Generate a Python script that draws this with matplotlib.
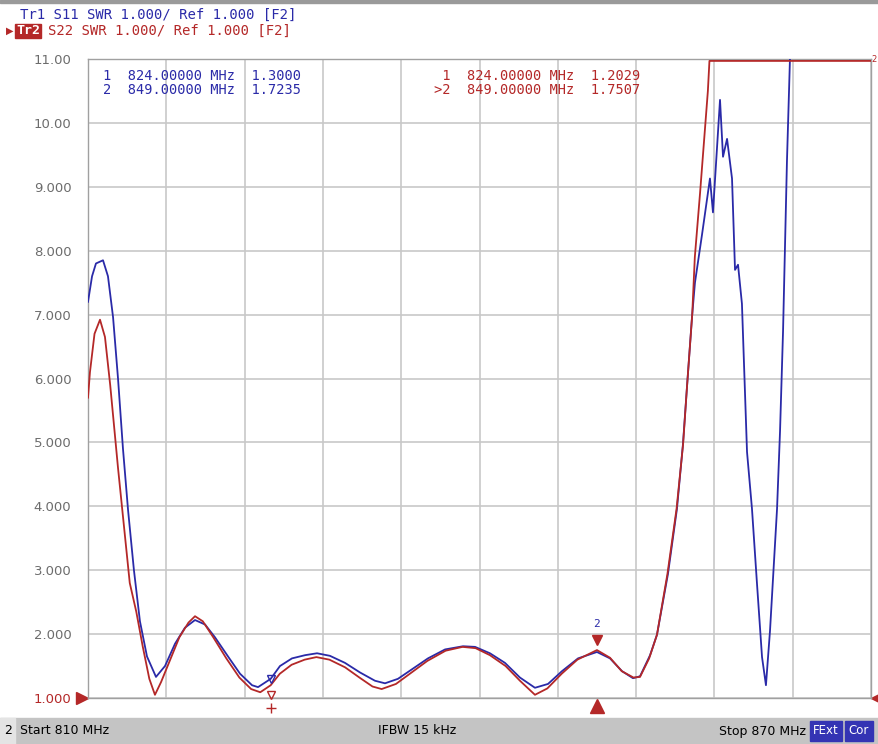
import matplotlib
matplotlib.use("Agg")
from matplotlib import pyplot as plt
from matplotlib.patches import Rectangle
import numpy as np

# S11 trace (blue), frequency in MHz and SWR
s11_freq = [810.0, 810.31, 810.61, 811.15, 811.53, 811.92, 812.30, 812.68, 813.07, 813.52,
            813.98, 814.52, 815.21, 815.90, 816.67, 817.43, 818.20, 818.97, 819.73, 820.73,
            821.65, 822.57, 823.03, 824.0, 824.71, 825.63, 826.63, 827.55, 828.54, 829.69,
            830.84, 831.99, 832.76, 833.75, 834.83, 836.05, 837.36, 838.74, 839.66, 840.80,
            841.95, 843.10, 844.25, 845.25, 846.32, 847.55, 849.0, 850.0, 850.92, 851.76,
            852.3, 853.07, 853.6, 854.44, 855.13, 855.59, 855.9, 856.28, 856.51, 857.05,
            857.66, 857.89, 858.43, 858.66, 858.97, 859.35, 859.58, 859.81, 860.11, 860.50,
            860.88, 861.26, 861.65, 861.95, 862.26, 862.80, 863.03, 863.26, 863.56, 863.79,
            864.3, 870.0]
s11_swr = [7.2, 7.6, 7.8, 7.85, 7.6, 6.96, 6.0, 4.9, 3.94, 3.0,
           2.2, 1.65, 1.33, 1.5, 1.85, 2.1, 2.22, 2.15, 1.95, 1.65,
           1.38, 1.2, 1.17, 1.30, 1.5, 1.62, 1.67, 1.70, 1.66, 1.55,
           1.40, 1.27, 1.23, 1.30, 1.45, 1.62, 1.76, 1.81, 1.80, 1.70,
           1.55, 1.32, 1.16, 1.22, 1.42, 1.62, 1.72, 1.62, 1.42, 1.31,
           1.34, 1.67, 1.99, 2.94, 3.96, 4.97, 5.87, 6.95, 7.5, 8.25,
           9.13, 8.6, 10.36, 9.47, 9.75, 9.13, 7.7, 7.78, 7.17, 4.85,
           3.96, 2.8, 1.64, 1.2, 2.05, 3.96, 5.18, 6.74, 9.4, 11.0,
           14.0, 15.0]

# S22 trace (red)
s22_freq = [810.0, 810.15, 810.5, 810.92, 811.3, 811.7, 812.3, 812.8, 813.2, 813.7,
            814.2, 814.7, 815.13, 815.6, 816.3, 817.0, 817.7, 818.2, 818.8, 819.6,
            820.6, 821.6, 822.5, 823.2, 824.0, 824.7, 825.6, 826.6, 827.5, 828.5,
            829.7, 830.8, 831.8, 832.5, 833.6, 834.8, 836.0, 837.4, 838.7, 839.7,
            840.8, 842.0, 843.1, 844.25, 845.2, 846.3, 847.5, 849.0, 850.0, 850.9,
            851.8, 852.3, 853.0, 853.6, 854.4, 855.1, 855.6, 855.9, 856.3, 856.5,
            856.9, 857.2, 857.5, 857.62, 870.0]
s22_swr = [5.7, 6.1, 6.7, 6.92, 6.65, 5.9, 4.6, 3.6, 2.8, 2.35,
           1.8, 1.3, 1.05, 1.25, 1.6, 1.95, 2.18, 2.28, 2.2, 1.95,
           1.62, 1.32, 1.14, 1.09, 1.20, 1.38, 1.52, 1.6, 1.64, 1.6,
           1.48, 1.32, 1.18, 1.14, 1.22, 1.40, 1.58, 1.74, 1.80, 1.78,
           1.67, 1.50, 1.27, 1.05, 1.15, 1.38, 1.60, 1.75, 1.63, 1.42,
           1.32, 1.33, 1.62, 1.99, 2.94, 3.96, 4.97, 5.87, 7.0, 7.9,
           8.9, 9.7, 10.5, 10.97, 10.97]

y_ticks = [1, 2, 3, 4, 5, 6, 7, 8, 9, 10, 11]
y_labels = ["1.000", "2.000", "3.000", "4.000", "5.000", "6.000", "7.000",
            "8.000", "9.000", "10.00", "11.00"]
x_grid = [810, 816, 822, 828, 834, 840, 846, 852, 858, 864, 870]

marker_freq = [824.0, 849.0]
s11_marker = [1.3000, 1.7235]
s22_marker = [1.2029, 1.7507]

BLUE = "#2a2aa8"
RED = "#b42828"
GRID = "#c8c8c8"
W, H = 879, 744

fig = plt.figure(figsize=(W / 100, H / 100), dpi=100)
fig.patch.set_facecolor("white")

# plot area in pixel coordinates
left, right, top, bottom = 88, 871, 59, 698
ax = fig.add_axes([left / W, 1 - bottom / H, (right - left) / W, (bottom - top) / H])
ax.set_xlim(810, 870)
ax.set_ylim(1, 11)
ax.set_xticks(x_grid)
ax.set_yticks(y_ticks)
ax.set_yticklabels(y_labels)
ax.tick_params(axis="x", length=0, labelbottom=False)
ax.tick_params(axis="y", length=0, pad=12, labelsize=9.5, labelcolor="#6c6c6c")
ax.get_yticklabels()[0].set_color(RED)
ax.grid(True, color=GRID, linewidth=1.2)
for s in ax.spines.values():
    s.set_color("#a0a0a0")
    s.set_linewidth(1.0)

ax.plot(s11_freq, s11_swr, color=BLUE, linewidth=1.3, zorder=3)
ax.plot(s22_freq, s22_swr, color=RED, linewidth=1.3, zorder=4)

# markers on traces
ax.plot(marker_freq[0], s11_marker[0], marker="v", ms=6, mfc="none", mec=BLUE, zorder=5)
ax.plot(marker_freq[0], s22_marker[0] - 0.15, marker="v", ms=6, mfc="none", mec=RED, zorder=5,
        clip_on=False)
ax.plot(marker_freq[0], 0.85, marker="+", ms=7, mec=RED, zorder=5, clip_on=False)
ax.plot(marker_freq[1], s22_marker[1] + 0.15, marker="v", ms=7, color=RED, zorder=6)
ax.text(marker_freq[1], s22_marker[1] + 0.33, "2", color=BLUE, fontsize=8,
        ha="center", va="bottom", family="DejaVu Sans Mono", zorder=6)
ax.plot(marker_freq[1], 0.87, marker="^", ms=10, color=RED, clip_on=False, zorder=6)

# reference level arrows
ax.plot(809.55, 1, marker=">", ms=9, color=RED, clip_on=False)
ax.plot(870.45, 1, marker="<", ms=9, color=RED, clip_on=False)
ax.text(870.05, 11, "2", color=RED, fontsize=6, ha="left", va="center")

# marker readouts
mono = "DejaVu Sans Mono"
ax.text(0.019, 0.985, "1  824.00000 MHz  1.3000\n2  849.00000 MHz  1.7235",
        transform=ax.transAxes, color=BLUE, fontsize=9.8, family=mono,
        va="top", ha="left", linespacing=1.05)
ax.text(0.705, 0.985, " 1  824.00000 MHz  1.2029\n>2  849.00000 MHz  1.7507",
        transform=ax.transAxes, color=RED, fontsize=9.8, family=mono,
        va="top", ha="right", linespacing=1.05)

# header
fig.patches.append(Rectangle((0, 1 - 3 / H), 1, 3 / H, transform=fig.transFigure,
                             color="#9a9a9a"))
fig.text(20 / W, 1 - 15 / H, "Tr1 S11 SWR 1.000/ Ref 1.000 [F2]", color=BLUE,
         fontsize=10, family=mono, va="center", ha="left")
fig.text(10 / W, 1 - 31 / H, "\u25B6", color=RED, fontsize=7, va="center", ha="center")
fig.text(16 / W, 1 - 31 / H, "Tr2", color="white", fontsize=9.5, family=mono,
         va="center", ha="left", fontweight="bold",
         bbox=dict(boxstyle="square,pad=0.05", fc=RED, ec=RED))
fig.text(48 / W, 1 - 31 / H, "S22 SWR 1.000/ Ref 1.000 [F2]", color=RED,
         fontsize=10, family=mono, va="center", ha="left")

# status bar
fig.patches.append(Rectangle((0, 0), 1, 26 / H, transform=fig.transFigure,
                             color="#c4c4c4"))
fig.patches.append(Rectangle((0, 0), 15 / W, 26 / H, transform=fig.transFigure,
                             color="#e4e4e4"))
fig.text(4 / W, 13 / H, "2", fontsize=9, va="center", ha="left")
fig.text(20 / W, 13 / H, "Start 810 MHz", fontsize=9, va="center", ha="left")
fig.text(417 / W, 13 / H, "IFBW 15 kHz", fontsize=9, va="center", ha="center")
fig.text(806 / W, 13 / H, "Stop 870 MHz", fontsize=9, va="center", ha="right")
fig.patches.append(Rectangle((810 / W, 3 / H), 32 / W, 20 / H, transform=fig.transFigure,
                             color="#3434b4"))
fig.patches.append(Rectangle((845 / W, 3 / H), 28 / W, 20 / H, transform=fig.transFigure,
                             color="#3434b4"))
fig.text(826 / W, 13 / H, "FExt", fontsize=8.5, color="white", va="center", ha="center")
fig.text(859 / W, 13 / H, "Cor", fontsize=8.5, color="white", va="center", ha="center")

fig.savefig("out.png", dpi=100)
